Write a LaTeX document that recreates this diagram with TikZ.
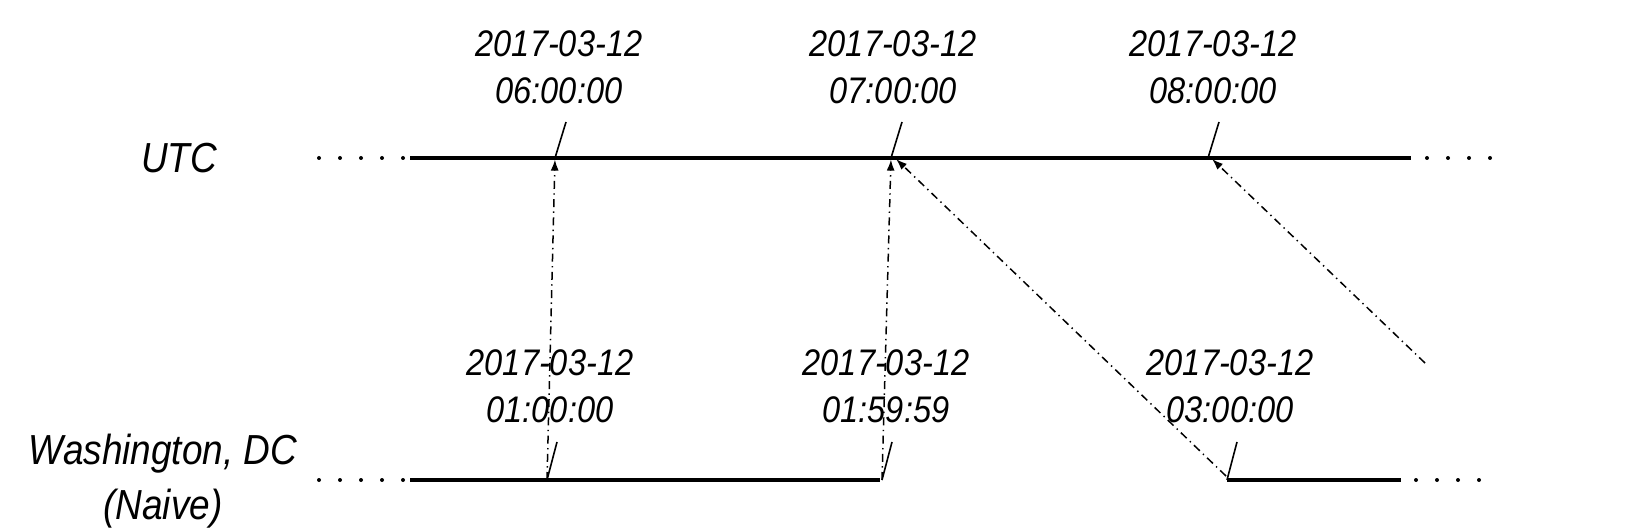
\documentclass[tikz,border=0pt]{standalone}
\usepackage{fontspec}
\setmainfont{Liberation Sans}
\newfontfamily\hand[FakeStretch=0.88]{Liberation Sans}
\usetikzlibrary{arrows.meta}
\begin{document}
\begin{tikzpicture}[x=0.5pt,y=-0.5pt,
  timeline/.style={line width=1.8pt},
  dotline/.style={line width=2pt, dash pattern=on 0pt off 10.5pt, line cap=round},
  tickmark/.style={line width=0.8pt},
  conv/.style={line width=0.75pt, dash pattern=on 4pt off 2.2pt on 0.7pt off 2.2pt, -{Latex[length=5.5pt,width=4pt]}, shorten >=0.8pt},
  stamp/.style={font=\hand\itshape\fontsize{18.5}{23.5}\selectfont, align=center, inner sep=0pt},
  zone/.style={font=\hand\itshape\fontsize{21}{27.5}\selectfont, align=center, inner sep=0pt}]
\useasboundingbox (0,0) rectangle (1628,529);
% zone labels
\node[zone] (utc) at (179,158) {UTC};
\node[zone] (wdc) at (163,481) {Washington, DC\\(Naive)};
% timeline coordinates
\coordinate (uL0) at (319,158); \coordinate (uL1) at (405,158);
\coordinate (uS0) at (410,158); \coordinate (uS1) at (1411,158);
\coordinate (uR0) at (1427,158); \coordinate (uR1) at (1492,158);
\coordinate (wL0) at (319,480); \coordinate (wL1) at (405,480);
\coordinate (wS0) at (410,480); \coordinate (wS1) at (880,480);
\coordinate (wT0) at (1227,480); \coordinate (wT1) at (1401,480);
\coordinate (wR0) at (1416,480); \coordinate (wR1) at (1492,480);
% ticks
\coordinate (u1) at (555,158); \coordinate (u2) at (891,158); \coordinate (u3) at (1208,158);
\coordinate (u2r) at (895,158); \coordinate (u3r) at (1211,158);
\coordinate (w1) at (547,480); \coordinate (w2) at (882,480); \coordinate (w3) at (1226,476);
\coordinate (w3t) at (1227,480);
\coordinate (free) at (1425,363);
% lines
\draw[dotline] (uL0) -- (uL1);
\draw[timeline] (uS0) -- (uS1);
\draw[dotline] (uR0) -- (uR1);
\draw[dotline] (wL0) -- (wL1);
\draw[timeline] (wS0) -- (wS1);
\draw[timeline] (wT0) -- (wT1);
\draw[dotline] (wR0) -- (wR1);
% tick marks
\draw[tickmark] (u1) -- ++(11,-36);
\draw[tickmark] (u2) -- ++(11,-36);
\draw[tickmark] (u3) -- ++(11,-36);
\draw[tickmark] (w1) -- ++(10,-38);
\draw[tickmark] (w2) -- ++(10,-38);
\draw[tickmark] (w3t) -- ++(10,-38);
% conversion arrows
\draw[conv] (w1) -- (u1);
\draw[conv] (w2) -- (u2);
\draw[conv] (w3) -- (u2r);
\draw[conv] (free) -- (u3r);
% time stamps
\node[stamp] (t1) at (559,67) {2017-03-12\\06:00:00};
\node[stamp] (t2) at (893,67) {2017-03-12\\07:00:00};
\node[stamp] (t3) at (1213,67) {2017-03-12\\08:00:00};
\node[stamp] (b1) at (550,386) {2017-03-12\\01:00:00};
\node[stamp] (b2) at (886,386) {2017-03-12\\01:59:59};
\node[stamp] (b3) at (1230,386) {2017-03-12\\03:00:00};
\end{tikzpicture}
\end{document}
